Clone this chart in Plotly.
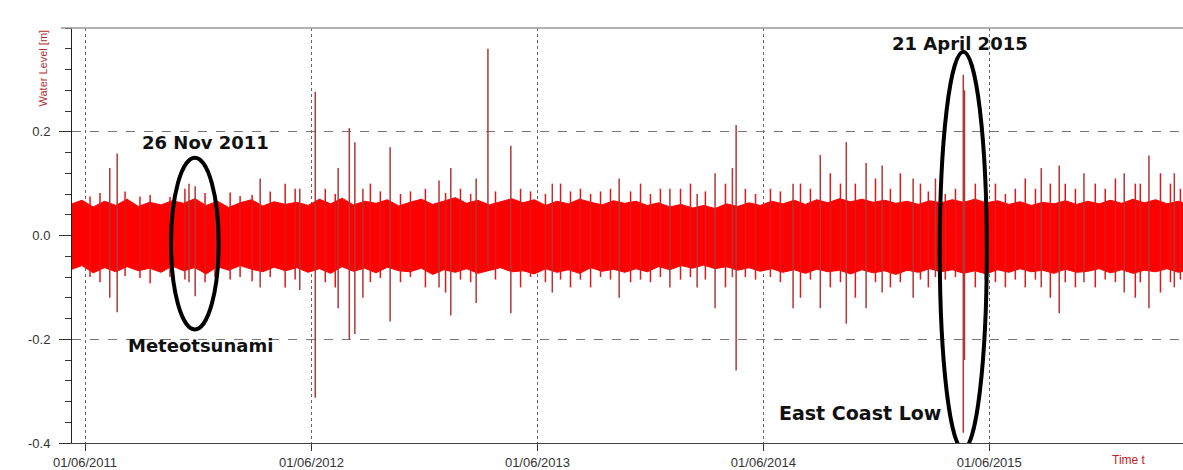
import pandas as pd
import plotly.graph_objects as go

# ---------------- data ----------------
# envelope of the dense water-level band (decimal years)
band_years = [
    2011.35, 2011.40, 2011.45, 2011.50, 2011.55, 2011.60, 2011.65, 2011.70, 2011.75, 2011.80,
    2011.85, 2011.90, 2011.95, 2012.00, 2012.05, 2012.10, 2012.15, 2012.20, 2012.25, 2012.30,
    2012.35, 2012.40, 2012.45, 2012.50, 2012.55, 2012.60, 2012.65, 2012.70, 2012.75, 2012.80,
    2012.85, 2012.90, 2012.95, 2013.00, 2013.05, 2013.10, 2013.15, 2013.20, 2013.25, 2013.30,
    2013.35, 2013.40, 2013.45, 2013.50, 2013.55, 2013.60, 2013.65, 2013.70, 2013.75, 2013.80,
    2013.85, 2013.90, 2013.95, 2014.00, 2014.05, 2014.10, 2014.15, 2014.20, 2014.25, 2014.30,
    2014.35, 2014.40, 2014.45, 2014.50, 2014.55, 2014.60, 2014.65, 2014.70, 2014.75, 2014.80,
    2014.85, 2014.90, 2014.95, 2015.00, 2015.05, 2015.10, 2015.15, 2015.20, 2015.25, 2015.30,
    2015.35, 2015.40, 2015.45, 2015.50, 2015.55, 2015.60, 2015.65, 2015.70, 2015.75, 2015.80,
    2015.85, 2015.90, 2015.95, 2016.00, 2016.05, 2016.10, 2016.15, 2016.20, 2016.25, 2016.30,
]
band_upper = [
    0.060, 0.068, 0.055, 0.066, 0.058, 0.070, 0.056, 0.064, 0.059, 0.067,
    0.062, 0.071, 0.058, 0.066, 0.054, 0.063, 0.069, 0.057, 0.065, 0.060,
    0.064, 0.058, 0.070, 0.061, 0.072, 0.059, 0.066, 0.062, 0.069, 0.057,
    0.064, 0.070, 0.060, 0.067, 0.073, 0.062, 0.068, 0.059, 0.065, 0.071,
    0.063, 0.069, 0.058, 0.066, 0.061, 0.070, 0.064, 0.059, 0.067, 0.062,
    0.066, 0.058, 0.063, 0.055, 0.060, 0.053, 0.058, 0.052, 0.061, 0.056,
    0.063, 0.058, 0.066, 0.061, 0.068, 0.060, 0.069, 0.063, 0.071, 0.065,
    0.070, 0.064, 0.068, 0.062, 0.066, 0.060, 0.067, 0.063, 0.069, 0.064,
    0.070, 0.063, 0.067, 0.060, 0.065, 0.058, 0.064, 0.061, 0.067, 0.060,
    0.066, 0.061, 0.068, 0.062, 0.070, 0.063, 0.069, 0.061, 0.066, 0.060,
]
band_lower = [
    -0.066, -0.058, -0.072, -0.062, -0.070, -0.060, -0.068, -0.063, -0.071, -0.059,
    -0.068, -0.062, -0.074, -0.060, -0.067, -0.058, -0.065, -0.070, -0.061, -0.068,
    -0.062, -0.071, -0.064, -0.073, -0.060, -0.069, -0.063, -0.072, -0.061, -0.068,
    -0.070, -0.063, -0.075, -0.066, -0.071, -0.064, -0.073, -0.067, -0.062, -0.070,
    -0.068, -0.074, -0.064, -0.071, -0.066, -0.073, -0.062, -0.069, -0.065, -0.071,
    -0.064, -0.070, -0.060, -0.066, -0.058, -0.063, -0.057, -0.064, -0.060, -0.067,
    -0.062, -0.069, -0.064, -0.071, -0.066, -0.073, -0.065, -0.070, -0.067, -0.074,
    -0.066, -0.072, -0.068, -0.075, -0.067, -0.071, -0.064, -0.070, -0.066, -0.073,
    -0.068, -0.074, -0.066, -0.071, -0.064, -0.070, -0.067, -0.073, -0.065, -0.071,
    -0.069, -0.064, -0.072, -0.066, -0.073, -0.067, -0.070, -0.064, -0.071, -0.066,
]

# small excursions ("teeth") on the band edge (decimal years)
teeth_years = [
    2011.436, 2011.480, 2011.591, 2011.657, 2011.702, 2011.790, 2011.856, 2011.945, 2011.989,
    2012.056, 2012.100, 2012.153, 2012.233, 2012.299, 2012.343, 2012.476, 2012.520, 2012.675,
    2012.719, 2012.808, 2012.852, 2012.918, 2013.007, 2013.073, 2013.118, 2013.228, 2013.339,
    2013.383, 2013.449, 2013.516, 2013.560, 2013.604, 2013.649, 2013.693, 2013.737, 2013.826,
    2013.870, 2013.914, 2013.958, 2014.047, 2014.091, 2014.157, 2014.246, 2014.334, 2014.379,
    2014.445, 2014.489, 2014.578, 2014.622, 2014.710, 2014.755, 2014.821, 2014.910, 2014.976,
    2015.020, 2015.109, 2015.144, 2015.219, 2015.264, 2015.352, 2015.396, 2015.441, 2015.485,
    2015.529, 2015.573, 2015.618, 2015.684, 2015.750, 2015.795, 2015.883, 2015.927, 2015.972,
    2016.060, 2016.082, 2016.171, 2016.215, 2016.259,
]
teeth_high = [
    0.075, 0.082, 0.085, 0.075, 0.078, 0.074, 0.090, 0.082, 0.075,
    0.083, 0.076, 0.078, 0.085, 0.100, 0.090, 0.090, 0.080, 0.100,
    0.085, 0.080, 0.085, 0.090, 0.082, 0.090, 0.080, 0.085, 0.090,
    0.085, 0.080, 0.100, 0.085, 0.090, 0.080, 0.085, 0.090, 0.085,
    0.100, 0.080, 0.090, 0.090, 0.100, 0.085, 0.100, 0.090, 0.080,
    0.090, 0.085, 0.100, 0.090, 0.120, 0.100, 0.100, 0.110, 0.090,
    0.120, 0.100, 0.085, 0.080, 0.090, 0.100, 0.090, 0.100, 0.080,
    0.090, 0.110, 0.090, 0.100, 0.100, 0.090, 0.100, 0.090, 0.110,
    0.100, 0.100, 0.120, 0.100, 0.090,
]
teeth_low = [
    -0.080, -0.090, -0.078, -0.082, -0.092, -0.080, -0.085, -0.090, -0.080,
    -0.085, -0.080, -0.088, -0.080, -0.100, -0.085, -0.090, -0.100, -0.090,
    -0.082, -0.090, -0.080, -0.100, -0.110, -0.085, -0.090, -0.085, -0.100,
    -0.080, -0.090, -0.085, -0.100, -0.085, -0.100, -0.080, -0.085, -0.090,
    -0.085, -0.090, -0.080, -0.085, -0.080, -0.085, -0.100, -0.080, -0.085,
    -0.080, -0.090, -0.120, -0.085, -0.100, -0.090, -0.120, -0.090, -0.100,
    -0.090, -0.085, -0.100, -0.085, -0.080, -0.100, -0.085, -0.090, -0.100,
    -0.085, -0.100, -0.085, -0.120, -0.090, -0.100, -0.100, -0.085, -0.090,
    -0.120, -0.090, -0.110, -0.090, -0.085,
]

# large isolated spikes
spike_dates = [
    "2011-07-11", "2011-07-23", "2011-11-16", "2011-11-26", "2012-03-10", "2012-05-13",
    "2012-06-07", "2012-07-14", "2012-08-01", "2012-08-10", "2012-08-23", "2012-10-06",
    "2012-12-24", "2013-01-12", "2013-02-22", "2013-03-13", "2013-04-19", "2013-06-25",
    "2013-10-11", "2014-01-01", "2014-02-14", "2014-03-15", "2014-04-12", "2014-04-18",
    "2014-07-19", "2014-09-01", "2014-10-13", "2014-11-14", "2014-12-10", "2015-01-29",
    "2015-03-06", "2015-04-20", "2015-04-22", "2015-08-24", "2015-09-22", "2015-11-01",
    "2016-01-05", "2016-02-14", "2016-03-26",
]
spike_high = [
    0.130, 0.158, 0.100, 0.095, 0.110, 0.090,
    0.277, 0.130, 0.207, 0.180, 0.090, 0.170,
    0.106, 0.130, 0.110, 0.360, 0.173, 0.100,
    0.110, 0.090, 0.080, 0.120, 0.130, 0.213,
    0.100, 0.155, 0.180, 0.140, 0.135, 0.110,
    0.110, 0.310, 0.280, 0.130, 0.135, 0.120,
    0.120, 0.154, 0.120,
]
spike_low = [
    -0.120, -0.148, -0.090, -0.117, -0.100, -0.105,
    -0.313, -0.140, -0.200, -0.190, -0.120, -0.166,
    -0.100, -0.154, -0.130, -0.060, -0.150, -0.110,
    -0.120, -0.100, -0.100, -0.140, -0.080, -0.260,
    -0.140, -0.140, -0.170, -0.140, -0.110, -0.120,
    -0.080, -0.380, -0.240, -0.100, -0.150, -0.090,
    -0.110, -0.140, -0.100,
]

tick_dates = ["2011-06-01", "2012-06-01", "2013-06-01", "2014-06-01", "2015-06-01"]
tick_labels = ["01/06/2011", "01/06/2012", "01/06/2013", "01/06/2014", "01/06/2015"]
y_tickvals = [-0.4, -0.2, 0.0, 0.2]
y_ticktext = ["-0.4", "-0.2", "0.0", "0.2"]


def dec_to_date(y):
    yr = int(y)
    start = pd.Timestamp(yr, 1, 1)
    end = pd.Timestamp(yr + 1, 1, 1)
    return start + (y - yr) * (end - start)


band_x = [dec_to_date(v) for v in band_years]

tx, ty = [], []
for t, h, l in zip(teeth_years, teeth_high, teeth_low):
    d = dec_to_date(t)
    tx += [d, d, None]
    ty += [l, h, None]

sx, sy = [], []
for d, h, l in zip(spike_dates, spike_high, spike_low):
    sx += [d, d, None]
    sy += [l, h, None]

fig = go.Figure()
fig.add_trace(go.Scatter(x=band_x, y=band_upper, mode="lines",
                         line=dict(color="#ff0000", width=1), hoverinfo="skip", showlegend=False))
fig.add_trace(go.Scatter(x=band_x, y=band_lower, mode="lines", fill="tonexty",
                         fillcolor="#ff0000", line=dict(color="#ff0000", width=1),
                         hoverinfo="skip", showlegend=False))
fig.add_trace(go.Scatter(x=tx, y=ty, mode="lines", line=dict(color="#dc1a1a", width=1.5),
                         hoverinfo="skip", showlegend=False))
fig.add_trace(go.Scatter(x=sx, y=sy, mode="lines", line=dict(color="#b03838", width=1.5),
                         hoverinfo="skip", showlegend=False))

label_font = dict(family="DejaVu Sans", size=18, color="#111111", weight="bold")
fig.add_annotation(x="2011-12-13", y=0.179, text="26 Nov 2011", showarrow=False, font=label_font)
fig.add_annotation(x="2011-12-05", y=-0.2115, text="Meteotsunami", showarrow=False, font=label_font)
fig.add_annotation(x="2015-04-15", y=0.371, text="21 April 2015", showarrow=False, font=label_font)
fig.add_annotation(x="2014-11-04", y=-0.342, text="East Coast Low", showarrow=False,
                   font=dict(family="DejaVu Sans", size=19, color="#111111", weight="bold"))

# ellipses
fig.add_shape(type="circle", xref="x", yref="y", x0="2011-10-18", x1="2012-01-03",
              y0=-0.181, y1=0.150, line=dict(color="black", width=4))
fig.add_shape(type="circle", xref="x", yref="y", x0="2015-03-13", x1="2015-05-28",
              y0=-0.412, y1=0.354, line=dict(color="black", width=4))

# top frame line
fig.add_shape(type="line", xref="paper", yref="paper", x0=-0.01, x1=1, y0=1, y1=1,
              line=dict(color="#999999", width=1.5))

# axis titles
fig.add_annotation(xref="paper", yref="paper", x=0, y=1, xshift=-30, xanchor="center",
                   yanchor="top", textangle=-90, text="Water Level [m]", showarrow=False,
                   font=dict(family="Liberation Sans Narrow, Arial Narrow, Liberation Sans",
                             size=11, color="#b03030"))
fig.add_annotation(xref="paper", yref="paper", x=0.9345, y=0, yshift=-17, xanchor="left",
                   yanchor="middle", text="Time t", showarrow=False,
                   font=dict(family="Liberation Sans", size=12, color="#c02020"))

fig.update_layout(
    width=1183, height=470,
    margin=dict(l=72, r=0, t=28, b=27),
    paper_bgcolor="white", plot_bgcolor="white",
    showlegend=False,
    xaxis=dict(
        type="date", range=["2011-05-11", "2016-04-09"],
        tickvals=tick_dates, ticktext=tick_labels,
        ticks="outside", ticklen=7, tickcolor="#333333", tickwidth=1,
        tickfont=dict(family="Liberation Sans", size=13, color="#333333"),
        showgrid=True, gridcolor="#666666", griddash="dot", gridwidth=1,
        showline=True, linecolor="#444444", linewidth=1, zeroline=False,
    ),
    yaxis=dict(
        range=[-0.4, 0.4], tickvals=y_tickvals, ticktext=y_ticktext,
        ticks="outside", ticklen=12, tickcolor="#333333", tickwidth=1,
        ticklabelstandoff=6,
        tickfont=dict(family="Liberation Sans", size=13, color="#333333"),
        minor=dict(dtick=0.04, tick0=-0.4, ticks="outside", ticklen=6,
                   tickcolor="#333333", showgrid=False),
        showgrid=True, gridcolor="#777777", griddash="dash", gridwidth=1,
        showline=True, linecolor="#222222", linewidth=1, zeroline=False,
    ),
)

fig.write_html("out.html")
